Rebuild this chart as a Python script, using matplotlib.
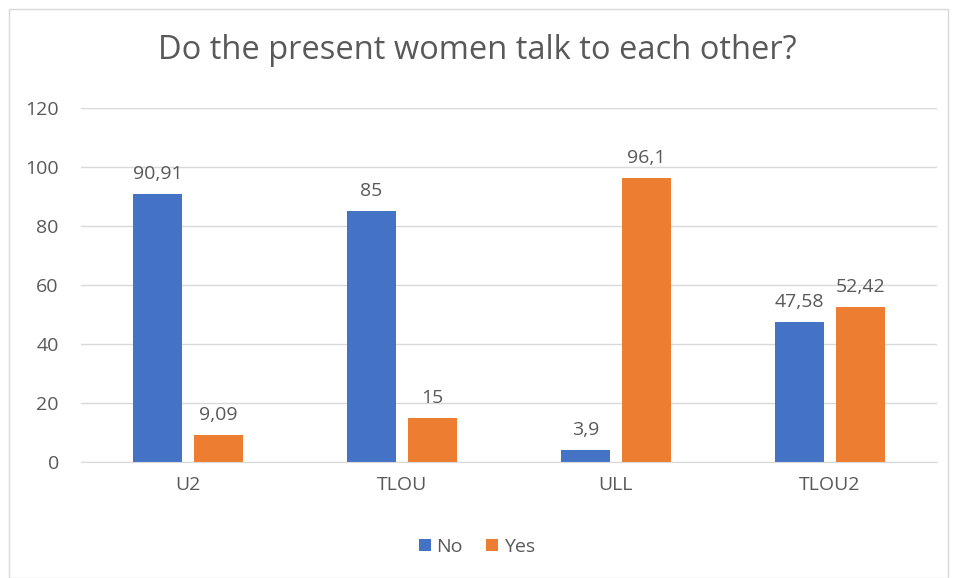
import matplotlib.pyplot as plt
import numpy as np
from matplotlib.patches import Rectangle

plt.rcParams['font.family'] = ['Open Sans', 'DejaVu Sans']

categories = ["U2", "TLOU", "ULL", "TLOU2"]
no_values = [90.91, 85, 3.9, 47.58]
yes_values = [9.09, 15, 96.1, 52.42]
no_labels = ["90,91", "85", "3,9", "47,58"]
yes_labels = ["9,09", "15", "96,1", "52,42"]

blue = "#4472C4"
orange = "#ED7D31"
text_gray = "#595959"

fig = plt.figure(figsize=(9.54, 5.78), dpi=100)
fig.patches.append(Rectangle((0.009, 0.0), 0.985, 0.985, transform=fig.transFigure,
                             fill=False, edgecolor="#D9D9D9", linewidth=1))

ax = fig.add_axes([0.085, 0.2007, 0.897, 0.6125])
x = np.arange(len(categories))
width = 0.229
gap = 0.056
offset = (width + gap) / 2

b1 = ax.bar(x - offset, no_values, width, color=blue, label="No")
b2 = ax.bar(x + offset, yes_values, width, color=orange, label="Yes")

for bars, labels in ((b1, no_labels), (b2, yes_labels)):
    for bar, lab in zip(bars, labels):
        ax.annotate(lab, (bar.get_x() + bar.get_width() / 2, bar.get_height()),
                    xytext=(0, 8), textcoords="offset points", ha="center", va="bottom",
                    fontsize=14, color=text_gray)

ax.set_xlim(-0.5, len(categories) - 0.5)
ax.set_ylim(0, 120)
ax.set_yticks(range(0, 121, 20))
ax.set_xticks(x)
ax.set_xticklabels(categories)
ax.yaxis.grid(True, color="#D9D9D9", linewidth=1)
ax.set_axisbelow(True)
for side in ("top", "right", "left"):
    ax.spines[side].set_visible(False)
ax.spines["bottom"].set_color("#D9D9D9")
ax.tick_params(axis="both", length=0, labelsize=14, labelcolor=text_gray)
ax.tick_params(axis="x", pad=10)
ax.tick_params(axis="y", pad=16)

fig.text(0.5, 0.913, "Do the present women talk to each other?", ha="center", va="center",
         fontsize=23.5, color=text_gray)

fig.legend(handles=[b1, b2], labels=["No", "Yes"], loc="center", bbox_to_anchor=(0.5, 0.054),
           ncol=2, frameon=False, fontsize=14, handlelength=0.6, handleheight=0.6,
           handletextpad=0.3, columnspacing=1.2, labelcolor=text_gray)

fig.savefig("out.png", dpi=100)
